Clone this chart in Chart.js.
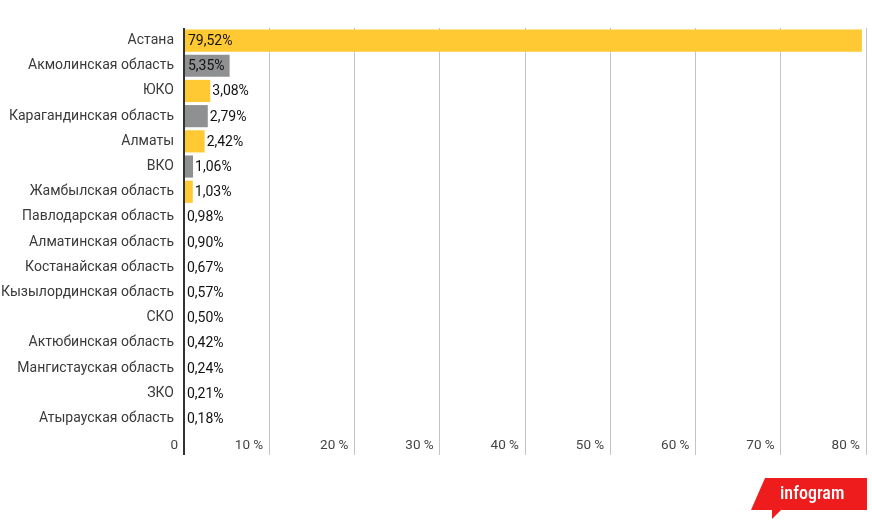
<!DOCTYPE html>
<html>
<head>
<meta charset="utf-8">
<script src="https://cdn.jsdelivr.net/npm/chart.js@4/dist/chart.umd.min.js"></script>
<style>
html,body{margin:0;padding:0;background:#fff;}
#wrap{width:872px;height:520px;position:relative;}
</style>
</head>
<body>
<div id="wrap"><canvas id="c" width="872" height="520"></canvas></div>
<script>
const categories = [
  "Астана","Акмолинская область","ЮКО","Карагандинская область","Алматы","ВКО",
  "Жамбылская область","Павлодарская область","Алматинская область","Костанайская область",
  "Кызылординская область","СКО","Актюбинская область","Мангистауская область","ЗКО","Атырауская область"
];
const shares = [79.52,5.35,3.08,2.79,2.42,1.06,1.03,0.98,0.90,0.67,0.57,0.50,0.42,0.24,0.21,0.18];
const xTicks = [0,10,20,30,40,50,60,70,80];

const YELLOW = '#FFC933';
const GRAY = '#8F9091';

const valueLabels = {
  id:'valueLabels',
  afterDatasetsDraw(chart){
    const ctx = chart.ctx;
    const meta = chart.getDatasetMeta(0);
    ctx.save();
    ctx.font = '14px Roboto';
    ctx.fillStyle = '#111';
    ctx.textBaseline = 'middle';
    ctx.textAlign = 'left';
    meta.data.forEach((bar,i)=>{
      const txt = shares[i].toFixed(2).replace('.', ',') + '%';
      const w = ctx.measureText(txt).width;
      const bw = bar.x - bar.base;
      let x;
      if (shares[i] < 1) x = bar.base + 2;
      else if (bw > w + 6) x = bar.base + 3;
      else x = bar.x + 2;
      ctx.fillText(txt, x, bar.y + 1);
    });
    ctx.restore();
  }
};

const logo = {
  id:'logo',
  afterDraw(chart){
    const ctx = chart.ctx;
    ctx.save();
    ctx.fillStyle = '#EE1C1C';
    ctx.beginPath();
    ctx.moveTo(765,478);
    ctx.lineTo(867,478);
    ctx.lineTo(867,510);
    ctx.lineTo(781,510);
    ctx.lineTo(772,519);
    ctx.lineTo(772,510);
    ctx.lineTo(751,510);
    ctx.closePath();
    ctx.fill();
    ctx.fillStyle = '#fff';
    ctx.font = '500 18px "Roboto Condensed", Roboto';
    ctx.textBaseline = 'alphabetic';
    ctx.textAlign = 'left';
    ctx.fillText('infogram', 780, 499);
    ctx.restore();
  }
};

new Chart(document.getElementById('c'), {
  type:'bar',
  data:{
    labels:categories,
    datasets:[{
      data:shares,
      backgroundColor: shares.map((v,i)=> v < 1 ? 'rgba(0,0,0,0)' : (i%2===0 ? YELLOW : GRAY)),
      borderWidth:0,
      barPercentage:0.88,
      categoryPercentage:1
    }]
  },
  options:{
    indexAxis:'y',
    responsive:false,
    animation:false,
    devicePixelRatio:1,
    layout:{padding:{top:28,right:6,bottom:49,left:0}},
    plugins:{legend:{display:false},tooltip:{enabled:false}},
    scales:{
      x:{
        min:0,max:80,
        afterBuildTicks(s){ s.ticks = xTicks.map(v=>({value:v})); },
        afterFit(s){ s.height = 40; },
        border:{display:false},
        grid:{
          color:(c)=> c.tick && c.tick.value===0 ? '#333' : '#C4C4C4',
          lineWidth:(c)=> c.tick && c.tick.value===0 ? 2 : 1,
          tickLength:24,
          drawTicks:true
        },
        ticks:{
          align:'end',
          labelOffset:-6,
          padding:-17,
          maxRotation:0,
          autoSkip:false,
          color:'#444',
          font:{family:'Roboto',size:13.5},
          callback:(v)=> v===0 ? '0' : v + ' %'
        }
      },
      y:{
        afterFit(s){ s.width = 184; },
        border:{display:false},
        grid:{display:false,drawTicks:false},
        ticks:{
          padding:10,
          autoSkip:false,
          color:'#3a3a3a',
          font:{family:'Roboto',size:14}
        }
      }
    }
  },
  plugins:[valueLabels,logo]
});
</script>
</body>
</html>
